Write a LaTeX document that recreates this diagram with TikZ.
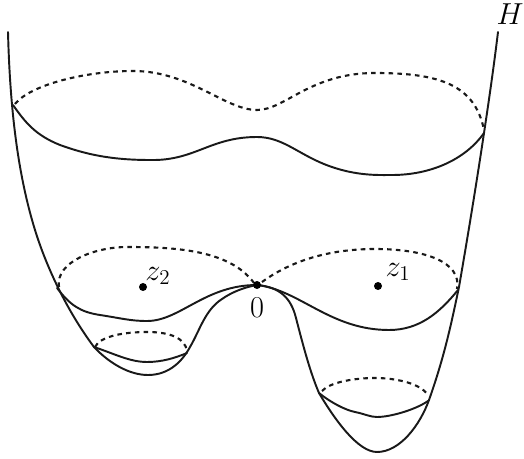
\documentclass[tikz,border=0pt]{standalone}
\usepackage{amsmath,amssymb}
\usetikzlibrary{calc}

\begin{document}
\begin{tikzpicture}[x=0.02cm,y=-0.02cm,
    curve/.style={line width=1.1pt,black!90,line cap=round},
    hidden/.style={curve,dash pattern=on 2.6pt off 2.4pt,line width=1.2pt,line cap=butt},
    lbl/.style={font=\fontsize{18.5}{22}\selectfont,inner sep=0pt}]
  \useasboundingbox (0,0) rectangle (524,459);
  % the surface
  \draw[curve] (8,32) .. controls (10,110) and (18,175) .. (35,230)
    .. controls (48,272) and (70,315) .. (94,347)
    .. controls (110,364) and (130,375) .. (148,375)
    .. controls (170,375) and (183,360) .. (190,347)
    .. controls (200,330) and (205,310) .. (222,299)
    .. controls (232,292) and (245,287) .. (257,285);
  \draw[curve] (257,285) .. controls (280,287) and (291,298) .. (296,318)
    .. controls (303,345) and (310,372) .. (319,393)
    .. controls (335,420) and (358,452) .. (377,452)
    .. controls (400,452) and (420,425) .. (429,400)
    .. controls (445,355) and (452,320) .. (459,287)
    .. controls (468,235) and (477,180) .. (484,133)
    .. controls (489,100) and (494,65) .. (498,32);
  % top level
  \draw[curve] (13,105) .. controls (25,122) and (35,135) .. (60,145)
    .. controls (85,154) and (110,160) .. (150,160)
    .. controls (195,161) and (210,137) .. (257,137)
    .. controls (285,137) and (300,157) .. (335,168)
    .. controls (360,176) and (380,175) .. (392,175)
    .. controls (430,175) and (465,160) .. (484,133);
  \draw[hidden] (15,104) .. controls (30,85) and (85,71) .. (133,71)
    .. controls (190,71) and (225,110) .. (257,110)
    .. controls (285,110) and (310,73) .. (375,73)
    .. controls (440,73) and (475,85) .. (484,130);
  % middle level, left and right of the origin
  \draw[curve] (57,288) .. controls (70,305) and (80,312) .. (100,315)
    .. controls (120,318) and (130,321) .. (147,321)
    .. controls (180,321) and (205,285) .. (257,285);
  \draw[hidden] (59,287) .. controls (55,262) and (95,247) .. (127,247)
    .. controls (175,247) and (230,250) .. (254,283);
  \draw[curve] (257,285) .. controls (300,290) and (330,330) .. (389,330)
    .. controls (420,330) and (440,312) .. (458,290);
  \draw[hidden] (262,282) .. controls (295,258) and (335,249) .. (375,249)
    .. controls (425,249) and (462,262) .. (457,289);
  % lower levels
  \draw[curve] (94,347) .. controls (115,354) and (130,362) .. (147,362)
    .. controls (162,362) and (175,358) .. (187,353);
  \draw[hidden] (95,347) .. controls (100,336) and (125,332) .. (147,332)
    .. controls (170,332) and (185,338) .. (187,351);
  \draw[curve] (319,393) .. controls (330,402) and (345,410) .. (355,412)
    .. controls (365,414) and (370,417) .. (377,417)
    .. controls (390,417) and (415,410) .. (428,401);
  \draw[hidden] (322,391) .. controls (330,382) and (355,378) .. (375,378)
    .. controls (395,378) and (420,383) .. (428,395);
  % points
  \fill (257,285) circle (4);
  \fill (143,287) circle (4);
  \fill (378,286) circle (4);
  \node[lbl] (origin) at (257,308) {$0$};
  \node[lbl] (labz2) at (158,276) {$z_2$};
  \node[lbl] (labz1) at (398,272) {$z_1$};
  \node[lbl] (labH) at (510,14) {$H$};
\end{tikzpicture}
\end{document}
